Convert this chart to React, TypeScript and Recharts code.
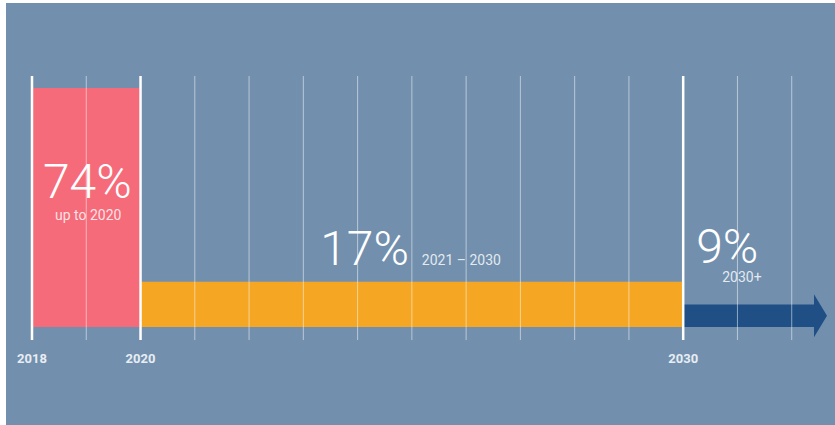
import React from "react";
import { ComposedChart, XAxis, YAxis, ReferenceArea, ReferenceLine } from "recharts";

// ---- data ----
const gridYears = [2018, 2019, 2020, 2021, 2022, 2023, 2024, 2025, 2026, 2027, 2028, 2029, 2030, 2031, 2032];
const tickYears = [2018, 2020, 2030];
const segmentStarts = [2018, 2020, 2030];
const segmentEnds = [2020, 2030, 2032.65];
const shareLabels = ["74%", "17%", "9%"];
const periodLabels = ["up to 2020", "2021 – 2030", "2030+"];
const barHeights = [74, 14, 7];
const segmentColors = ["#f66b7a", "#f5a623", "#1f4f85"];

const BG = "#7290ae";
const FONT = "Roboto, 'Noto Sans', sans-serif";

const chartData = gridYears.map((y, i) => ({ year: y, level: i === 0 ? 0 : 74 }));

const ArrowShape = (props: any) => {
  const { x, y, width, height, fill } = props;
  if (x == null || width == null) return null;
  const head = 13;
  const extra = height * 0.45;
  const sx = x + width - head;
  const d = `M${x},${y} L${sx},${y} L${sx},${y - extra} L${x + width},${y + height / 2} L${sx},${y + height + extra} L${sx},${y + height} L${x},${y + height} Z`;
  return <path d={d} fill={fill} />;
};

const RedLabel = (props: any) => {
  const { viewBox } = props;
  if (!viewBox) return null;
  const cx = viewBox.x + viewBox.width / 2 + 1;
  return (
    <g fontFamily={FONT}>
      <text x={cx} y={viewBox.y + 110} textAnchor="middle" fill="#ffffff" fontSize={48} fontWeight={300}>
        {shareLabels[0]}
      </text>
      <text x={cx + 1} y={viewBox.y + 132} textAnchor="middle" fill="rgba(255,255,255,0.82)" fontSize={14}>
        {periodLabels[0]}
      </text>
    </g>
  );
};

const OrangeLabel = (props: any) => {
  const { viewBox } = props;
  if (!viewBox) return null;
  const cx = viewBox.x + viewBox.width / 2;
  return (
    <g fontFamily={FONT}>
      <text x={cx - 3} y={viewBox.y - 17} textAnchor="end" fill="#ffffff" fontSize={48} fontWeight={300}>
        {shareLabels[1]}
      </text>
      <text x={cx + 10} y={viewBox.y - 17} textAnchor="start" fill="rgba(255,255,255,0.82)" fontSize={14}>
        {periodLabels[1]}
      </text>
    </g>
  );
};

const BlueLabel = (props: any) => {
  const { viewBox } = props;
  if (!viewBox) return null;
  return (
    <g fontFamily={FONT}>
      <text x={viewBox.x + 13} y={viewBox.y - 41} textAnchor="start" fill="#ffffff" fontSize={48} fontWeight={300}>
        {shareLabels[2]}
      </text>
      <text x={viewBox.x + 39} y={viewBox.y - 22} textAnchor="start" fill="rgba(255,255,255,0.82)" fontSize={14}>
        {periodLabels[2]}
      </text>
    </g>
  );
};

const labelComponents = [RedLabel, OrangeLabel, BlueLabel];

export default function App() {
  return (
    <div style={{ position: "absolute", left: 6, top: 3, width: 829, height: 422, background: BG }}>
      <ComposedChart
        width={829}
        height={422}
        data={chartData}
        margin={{ top: 73, right: 8, bottom: 55, left: 26 }}
      >
        <XAxis
          dataKey="year"
          type="number"
          domain={[2018, 2032.65]}
          allowDataOverflow
          ticks={tickYears}
          axisLine={false}
          tickLine={false}
          tickSize={0}
          tickMargin={14}
          height={30}
          interval={0}
          tick={{ fill: "#e8edf3", fontSize: 13, fontWeight: 700, fontFamily: FONT }}
        />
        <YAxis dataKey="level" type="number" domain={[-4.03, 77.72]} allowDataOverflow hide width={0} />
        {segmentStarts.map((s, i) => {
          const Lbl = labelComponents[i];
          return (
            <ReferenceArea
              key={"seg" + i}
              x1={s}
              x2={segmentEnds[i]}
              y1={0}
              y2={barHeights[i]}
              fill={segmentColors[i]}
              fillOpacity={1}
              stroke="none"
              ifOverflow="visible"
              shape={i === 2 ? (p: any) => <ArrowShape {...p} fill={segmentColors[i]} /> : undefined}
              label={(p: any) => <Lbl {...p} />}
            />
          );
        })}
        {gridYears.map((y) => {
          const major = tickYears.includes(y);
          return (
            <ReferenceLine
              key={"g" + y}
              x={y}
              stroke={major ? "#ffffff" : "rgba(255,255,255,0.5)"}
              strokeWidth={major ? 2.5 : 1}
              ifOverflow="visible"
            />
          );
        })}
      </ComposedChart>
    </div>
  );
}
